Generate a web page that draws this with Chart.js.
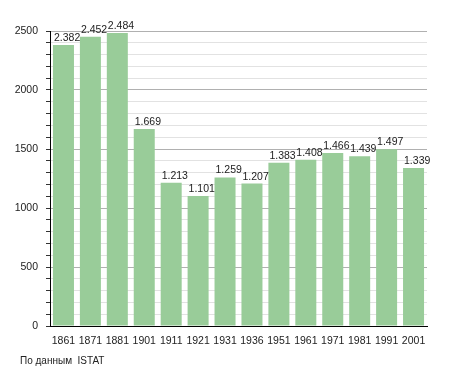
<!DOCTYPE html>
<html>
<head>
<meta charset="utf-8">
<script src="https://cdn.jsdelivr.net/npm/chart.js@4"></script>
<style>
  body { margin: 0; background: #fff; }
  #wrap { position: relative; width: 455px; height: 373px; }
  #source { position: absolute; left: 20px; top: 355px; font: 10px "Liberation Sans", Arial, sans-serif; color: #222; }
</style>
</head>
<body>
<div id="wrap">
  <canvas id="chart" width="455" height="373"></canvas>
  <div id="source">По данным&nbsp; ISTAT</div>
</div>
<script>
const years = ['1861', '1871', '1881', '1901', '1911', '1921', '1931', '1936', '1951', '1961', '1971', '1981', '1991', '2001'];
const population = [2382, 2452, 2484, 1669, 1213, 1101, 1259, 1207, 1383, 1408, 1466, 1439, 1497, 1339];

const FONT = '"Liberation Sans", Arial, sans-serif';

// 2382 -> "2.382"
function fmt(v) {
    return String(v).replace(/\B(?=(\d{3})+(?!\d))/g, '.');
}

const valueLabels = {
    id: 'valueLabels',
    afterDatasetsDraw(chart) {
        const c = chart.ctx;
        const meta = chart.getDatasetMeta(0);
        c.save();
        c.font = '10.5px ' + FONT;
        c.fillStyle = '#222';
        c.textAlign = 'left';
        c.textBaseline = 'alphabetic';
        meta.data.forEach((bar, i) => {
            c.fillText(fmt(population[i]), bar.x - bar.width / 2 + 1, bar.y - 4);
        });
        c.restore();
    }
};

const ctx = document.getElementById('chart').getContext('2d');
new Chart(ctx, {
    type: 'bar',
    data: {
        labels: years,
        datasets: [{
            data: population,
            backgroundColor: '#99cc99',
            borderWidth: 0,
            categoryPercentage: 1,
            barPercentage: 0.78
        }]
    },
    options: {
        responsive: false,
        animation: false,
        layout: { padding: { left: 0, right: 28, top: 31, bottom: 27 } },
        plugins: { legend: { display: false }, tooltip: { enabled: false } },
        scales: {
            x: {
                grid: { display: false },
                border: { display: true, color: '#000', width: 1 },
                ticks: { font: { family: FONT, size: 10.5 }, color: '#222', padding: 1, maxRotation: 0, autoSkip: false },
                afterFit(scale) { scale.height = 20; }
            },
            y: {
                min: 0,
                max: 2500,
                border: { display: true, color: '#000', width: 1 },
                grid: {
                    color: (c) => (c.tick && c.tick.value % 500 === 0 ? '#b0b0b0' : '#e2e2e2'),
                    tickColor: '#333',
                    tickLength: 4,
                    drawTicks: true
                },
                ticks: {
                    stepSize: 100,
                    autoSkip: false,
                    padding: 8,
                    font: { family: FONT, size: 10.5 },
                    color: '#222',
                    callback: (v) => (v % 500 === 0 ? v : '')
                },
                afterFit(scale) { scale.width = 50; }
            }
        }
    },
    plugins: [valueLabels]
});
</script>
</body>
</html>
